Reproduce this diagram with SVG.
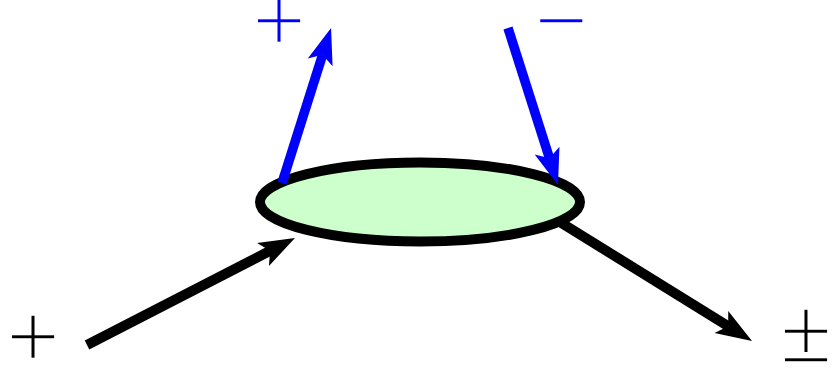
<svg xmlns="http://www.w3.org/2000/svg" width="832" height="369" viewBox="0 0 832 369">
<style>
.lbl{font-family:"Liberation Serif",serif;font-size:94px;text-anchor:middle;stroke:#ffffff;stroke-width:1.6px}
.blue{fill:#0000ff}
.black{fill:#000000}
</style>
<defs>
<marker id="hb" markerUnits="userSpaceOnUse" orient="auto" refX="0" refY="0" markerWidth="60" markerHeight="60" viewBox="-10 -30 60 60" overflow="visible">
<path d="M28,0 L-8,-13 L0,0 L-8,13 Z" fill="#0000ff"/>
</marker>
<marker id="hk" markerUnits="userSpaceOnUse" orient="auto" refX="0" refY="0" markerWidth="60" markerHeight="60" viewBox="-10 -30 60 60" overflow="visible">
<path d="M28,0 L-8,-13 L0,0 L-8,13 Z" fill="#000000"/>
</marker>
</defs>
<g id="connectors-back">
<line x1="87" y1="345" x2="270.1" y2="250.8" stroke="#000" stroke-width="10" marker-end="url(#hk)"/>
<line x1="555" y1="219" x2="728.2" y2="326.2" stroke="#000" stroke-width="10" marker-end="url(#hk)"/>
</g>
<g id="blob">
<ellipse cx="420" cy="202" rx="160" ry="39.5" fill="#ccffcc" stroke="#000" stroke-width="10"/>
</g>
<g id="connectors">
<line x1="282" y1="183" x2="322.6" y2="54.7" stroke="#0000ff" stroke-width="9.5" marker-end="url(#hb)"/>
<line x1="508" y1="28" x2="549.5" y2="158.3" stroke="#0000ff" stroke-width="9.5" marker-end="url(#hb)"/>
</g>
<g id="labels">
<text class="lbl blue" x="279" y="52">+</text>
<text class="lbl blue" x="561" y="52">−</text>
<text class="lbl black" x="33" y="368">+</text>
<text class="lbl black" x="806" y="362">±</text>
</g>
</svg>
